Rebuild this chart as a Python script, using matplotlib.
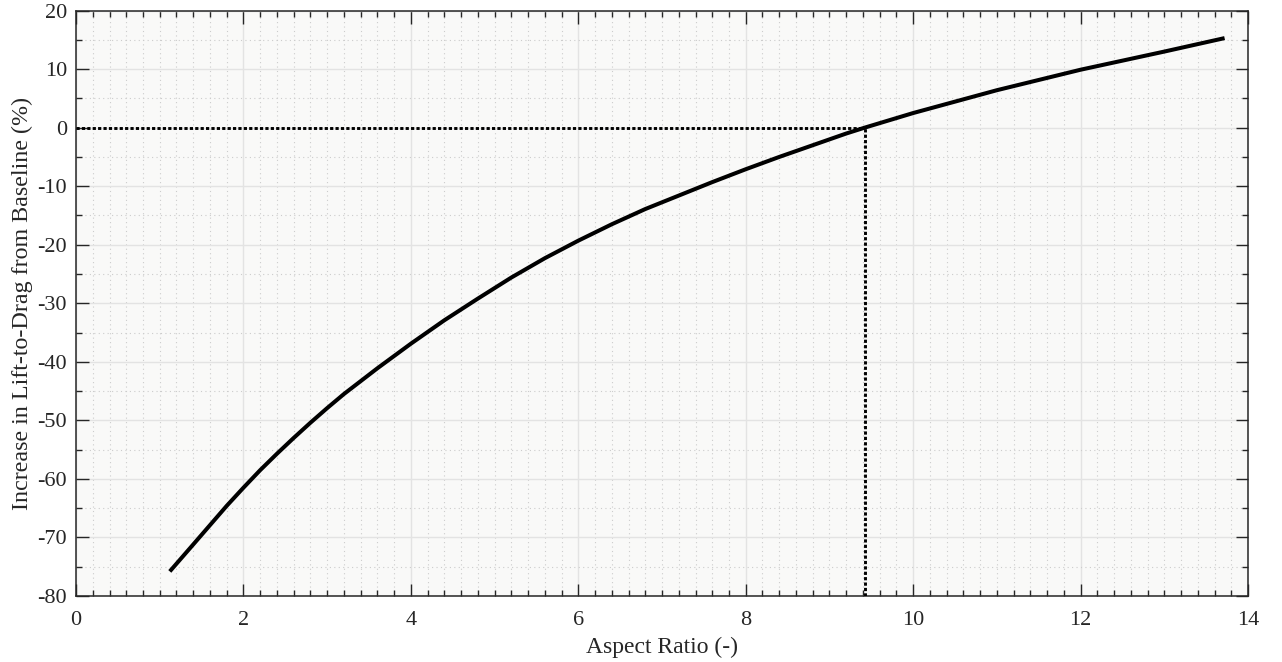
import matplotlib.pyplot as plt
from matplotlib.ticker import MultipleLocator

# values
aspectRatio = [1.12, 1.4, 1.6, 1.8, 2.0, 2.2, 2.4, 2.6, 2.8, 3.0, 3.2, 3.4, 3.6, 3.8,
               4.0, 4.4, 4.8, 5.2, 5.6, 6.0, 6.4, 6.8, 7.2, 7.6, 8.0, 8.4, 8.8, 9.2,
               9.42, 10.0, 11.0, 12.0, 13.0, 13.72]
ldIncrease = [-75.8, -71.2, -67.9, -64.6, -61.5, -58.5, -55.7, -53.0, -50.4, -47.9,
              -45.5, -43.3, -41.1, -39.0, -36.9, -32.9, -29.2, -25.6, -22.3, -19.3,
              -16.5, -13.9, -11.6, -9.3, -7.1, -5.0, -3.0, -1.0, 0.0, 2.5, 6.4, 9.9,
              13.0, 15.3]

baselineAR = 9.42
xTicks = [0, 2, 4, 6, 8, 10, 12, 14]
yTicks = [-80, -70, -60, -50, -40, -30, -20, -10, 0, 10, 20]

plt.rcParams['font.family'] = ['Liberation Serif', 'DejaVu Serif']
plt.rcParams['axes.unicode_minus'] = False
textColor = '#262626'


def main():
    fig = plt.figure(figsize=(12.82, 6.62), dpi=100)
    ax = fig.add_axes([0.0593, 0.0997, 0.9142, 0.8843])
    ax.set_facecolor('#f9f9f8')

    ax.plot(aspectRatio, ldIncrease, color='black', lw=2.9, solid_capstyle='butt',
            solid_joinstyle='round', zorder=3)

    # baseline markers
    ax.plot([0, baselineAR], [0, 0], color='black', lw=2.1, linestyle=(0, (1.1, 0.75)), zorder=4)
    ax.plot([baselineAR, baselineAR], [-80, 0], color='black', lw=2.1, linestyle=(0, (1.1, 0.75)), zorder=4)

    ax.set_xlim(0, 14)
    ax.set_ylim(-80, 20)
    ax.set_xticks(xTicks)
    ax.set_yticks(yTicks)
    ax.xaxis.set_minor_locator(MultipleLocator(0.2))
    ax.yaxis.set_minor_locator(MultipleLocator(5))

    ax.grid(which='major', color='#e3e3e3', lw=1.0, zorder=0)
    ax.grid(which='minor', color='#cccccc', lw=0.8, linestyle=(0, (1, 3)), zorder=0)
    ax.set_axisbelow(True)

    ax.tick_params(which='both', direction='in', top=True, right=True, colors=textColor,
                   labelsize=16, width=1.0)
    ax.tick_params(which='major', length=9)
    ax.tick_params(which='minor', length=4.5)
    ax.tick_params(axis='x', pad=10.5)
    ax.tick_params(axis='y', pad=6.5)

    for sp in ax.spines.values():
        sp.set_color(textColor)
        sp.set_linewidth(1.1)

    ax.set_xlabel('Aspect Ratio (-)', fontsize=17, color=textColor, labelpad=5)
    ax.set_ylabel('Increase in Lift-to-Drag from Baseline (%)', fontsize=17.3, color=textColor, labelpad=3)

    fig.savefig('out.png', dpi=100)


if __name__ == "__main__":
    main()
